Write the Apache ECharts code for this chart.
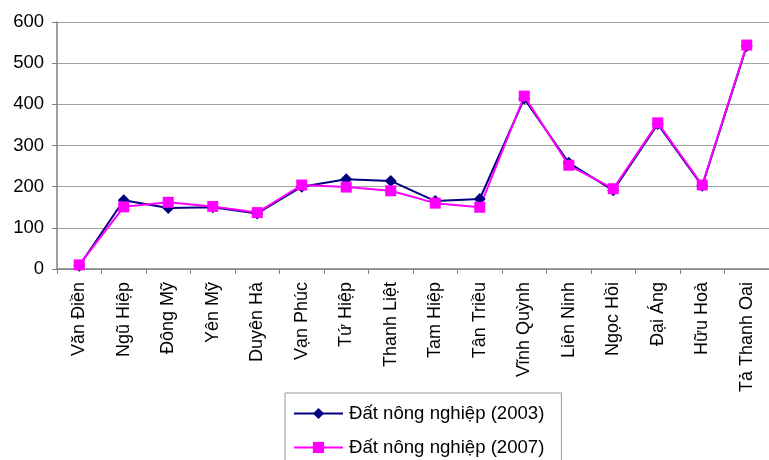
<!DOCTYPE html>
<html>
<head>
<meta charset="utf-8">
<script src="https://cdn.jsdelivr.net/npm/echarts@6/dist/echarts.min.js"></script>
<style>
    html, body { margin: 0; padding: 0; background: #ffffff; }
    #chart { width: 769px; height: 460px; }
</style>
</head>
<body>
<div id="chart"></div>
<script>
var communes = ['Văn Điền', 'Ngũ Hiệp', 'Đông Mỹ', 'Yên Mỹ', 'Duyên Hà', 'Vạn Phúc', 'Tứ Hiệp', 'Thanh Liệt',
    'Tam Hiệp', 'Tân Triều', 'Vĩnh Quỳnh', 'Liên Ninh', 'Ngọc Hồi', 'Đại Áng', 'Hữu Hoà', 'Tả Thanh Oai'];
var land2003 = [8, 167, 148, 150, 135, 200, 218, 214, 165, 170, 414, 258, 191, 352, 202, 542];
var land2007 = [10, 151, 162, 152, 137, 204, 199, 190, 160, 150, 420, 252, 195, 355, 204, 544];
var yTicks = [0, 600, 100];

var chart = echarts.init(document.getElementById('chart'));
var font = 'Liberation Sans, Arial, sans-serif';

var option = {
    backgroundColor: '#ffffff',
    animation: false,
    textStyle: { fontFamily: font },
    grid: { left: 57, top: 22, width: 723, height: 247, containLabel: false },
    legend: {
        orient: 'vertical',
        left: 285,
        top: 393,
        height: 120,
        padding: [11, 17, 9, 8],
        borderColor: '#9a9a9a',
        borderWidth: 1,
        itemWidth: 49,
        itemHeight: 14,
        itemGap: 15,
        textStyle: { fontSize: 18.6, color: '#000', fontFamily: font, padding: [0, 0, 0, 1] },
        data: ['Đất nông nghiệp (2003)', 'Đất nông nghiệp (2007)']
    },
    xAxis: {
        type: 'category',
        data: communes,
        boundaryGap: true,
        axisLine: { lineStyle: { color: '#808080', width: 1.5 } },
        axisTick: { show: true, length: 5, lineStyle: { color: '#808080' } },
        axisLabel: { rotate: 90, fontSize: 18, color: '#000', margin: 13, fontFamily: font, interval: 0 }
    },
    yAxis: {
        type: 'value',
        min: yTicks[0],
        max: yTicks[1],
        interval: yTicks[2],
        axisLine: { show: true, lineStyle: { color: '#808080', width: 1.5 } },
        axisTick: { show: true, length: 5, lineStyle: { color: '#808080' } },
        axisLabel: { fontSize: 18.5, color: '#000', margin: 13, fontFamily: font },
        splitLine: { lineStyle: { color: '#a0a0a0', width: 1 } }
    },
    series: [
        {
            name: 'Đất nông nghiệp (2003)',
            type: 'line',
            data: land2003,
            symbol: 'diamond',
            symbolSize: 12,
            lineStyle: { color: '#000080', width: 2 },
            itemStyle: { color: '#000080' }
        },
        {
            name: 'Đất nông nghiệp (2007)',
            type: 'line',
            data: land2007,
            symbol: 'rect',
            symbolSize: 11,
            lineStyle: { color: '#ff00ff', width: 2 },
            itemStyle: { color: '#ff00ff' }
        }
    ]
};
chart.setOption(option);
</script>
</body>
</html>
